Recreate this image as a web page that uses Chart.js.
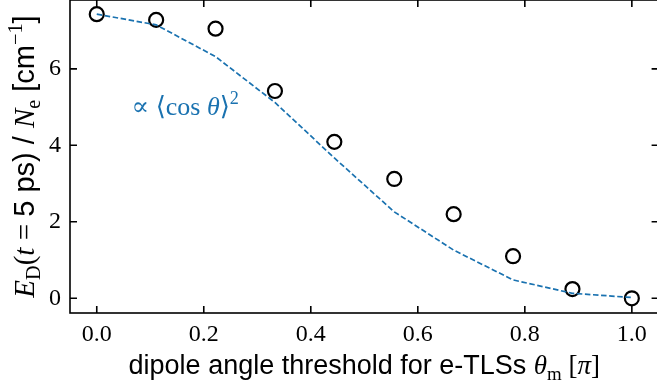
<!DOCTYPE html>
<html>
<head>
<meta charset="utf-8">
<script src="https://cdn.jsdelivr.net/npm/chart.js@4.4.1/dist/chart.umd.min.js"></script>
<style>
  html, body { margin: 0; padding: 0; background: #fff; overflow: hidden; }
  #wrap { width: 662px; height: 388px; }
</style>
</head>
<body>
<div id="wrap"><canvas id="chart" width="662" height="388"></canvas></div>
<script>
// threshold angle theta_m in units of pi
const thetaM = [0, 0.111, 0.222, 0.333, 0.444, 0.556, 0.667, 0.778, 0.889, 1.0];
// simulated E_D(t = 5 ps) / N_e
const energyDensity = [7.43, 7.28, 7.05, 5.42, 4.09, 3.12, 2.20, 1.10, 0.24, 0.0];
// scaled <cos theta>^2 curve
const cosSquared = [7.43, 7.15, 6.32, 5.12, 3.67, 2.26, 1.26, 0.48, 0.13, 0.02];

const xTicks = [0, 0.2, 0.4, 0.6, 0.8, 1.0];
const xTickLabels = ['0.0', '0.2', '0.4', '0.6', '0.8', '1.0'];
const yTicks = [0, 2, 4, 6];
const yTickLabels = ['0', '2', '4', '6'];

const BLUE = '#1a72b0';
const SERIF = '"Liberation Serif", "DejaVu Serif", serif';
const SANS = '"Liberation Sans", Arial, sans-serif';

// draw a string made of pieces in different fonts (math + text)
function richWidth(ctx, segs, size) {
    let w = 0;
    segs.forEach(s => {
        const sz = s.shift ? size * 0.7 : size;
        ctx.font = (s.italic ? 'italic ' : '') + sz + 'px ' + (s.sans ? SANS : SERIF);
        w += ctx.measureText(s.t).width;
    });
    return w;
}

function drawRich(ctx, segs, size, x, y) {
    segs.forEach(s => {
        const sz = s.shift ? size * 0.7 : size;
        ctx.font = (s.italic ? 'italic ' : '') + sz + 'px ' + (s.sans ? SANS : SERIF);
        let dy = 0;
        if (s.shift === 'sub') dy = size * 0.22;
        if (s.shift === 'sup') dy = -size * 0.4;
        ctx.fillText(s.t, x, y + dy);
        x += ctx.measureText(s.t).width;
    });
}

const xTitle = [
    { t: 'dipole angle threshold for e-TLSs ', sans: true },
    { t: 'θ', italic: true },
    { t: 'm', shift: 'sub' },
    { t: ' [' },
    { t: 'π', italic: true },
    { t: ']' }
];

const yTitle = [
    { t: 'E', italic: true },
    { t: 'D', shift: 'sub' },
    { t: '(' },
    { t: 't', italic: true },
    { t: ' = ' },
    { t: '5 ps) / ', sans: true },
    { t: 'N', italic: true },
    { t: 'e', shift: 'sub' },
    { t: ' [cm', sans: true },
    { t: '−1', shift: 'sup' },
    { t: ']', sans: true }
];

const annotation = [
    { t: '∝ ⟨cos ' },
    { t: 'θ', italic: true },
    { t: '⟩' },
    { t: '2', shift: 'sup' }
];

// frame with inward ticks, axis titles and the curve label
const framePlugin = {
    id: 'frame',
    afterDraw(chart) {
        const ctx = chart.ctx;
        const a = chart.chartArea;
        const xs = chart.scales.x, ys = chart.scales.y;
        ctx.save();
        ctx.strokeStyle = '#000';
        ctx.lineWidth = 1.6;
        ctx.strokeRect(a.left, a.top, a.right - a.left, a.bottom - a.top);
        ctx.beginPath();
        xTicks.forEach(v => {
            const px = xs.getPixelForValue(v);
            ctx.moveTo(px, a.bottom); ctx.lineTo(px, a.bottom - 7);
            ctx.moveTo(px, a.top); ctx.lineTo(px, a.top + 7);
        });
        yTicks.forEach(v => {
            const py = ys.getPixelForValue(v);
            ctx.moveTo(a.left, py); ctx.lineTo(a.left + 7, py);
            ctx.moveTo(a.right, py); ctx.lineTo(a.right - 7, py);
        });
        ctx.stroke();

        ctx.fillStyle = '#000';
        ctx.textBaseline = 'alphabetic';
        ctx.textAlign = 'left';
        const cx = (a.left + a.right) / 2;
        drawRich(ctx, xTitle, 27, cx - richWidth(ctx, xTitle, 27) / 2, 374);

        const cy = (a.top + a.bottom) / 2;
        ctx.translate(34, cy);
        ctx.rotate(-Math.PI / 2);
        drawRich(ctx, yTitle, 29, -richWidth(ctx, yTitle, 29) / 2, 0);
        ctx.restore();

        ctx.save();
        ctx.fillStyle = BLUE;
        ctx.textBaseline = 'alphabetic';
        drawRich(ctx, annotation, 26, xs.getPixelForValue(0.065), ys.getPixelForValue(4.8));
        ctx.restore();
    }
};

new Chart(document.getElementById('chart').getContext('2d'), {
    type: 'scatter',
    data: {
        datasets: [{
            data: thetaM.map((x, i) => ({ x: x, y: cosSquared[i] })),
            showLine: true,
            borderColor: BLUE,
            borderWidth: 1.7,
            borderDash: [5.5, 2.6],
            pointRadius: 0,
            fill: false
        }, {
            data: thetaM.map((x, i) => ({ x: x, y: energyDensity[i] })),
            pointRadius: 7,
            pointBorderWidth: 2.2,
            pointBorderColor: '#000',
            pointBackgroundColor: 'rgba(0,0,0,0)'
        }]
    },
    options: {
        responsive: false,
        animation: false,
        layout: { autoPadding: false, padding: { top: 0, left: 0, bottom: 0, right: 3.4 } },
        plugins: { legend: { display: false }, tooltip: { enabled: false } },
        scales: {
            x: {
                type: 'linear',
                min: -0.05,
                max: 1.05,
                afterBuildTicks: s => { s.ticks = xTicks.map(v => ({ value: v })); },
                afterFit: s => {
                    s.height = 75;
                    s.paddingLeft = 0; s.paddingRight = 0;
                    s.paddingTop = 0; s.paddingBottom = 0;
                },
                grid: { display: false, drawTicks: false },
                border: { display: false },
                ticks: {
                    autoSkip: false,
                    maxRotation: 0,
                    padding: 7,
                    color: '#000',
                    font: { family: SERIF, size: 24 },
                    callback: (v, i) => xTickLabels[i]
                }
            },
            y: {
                type: 'linear',
                min: -0.385,
                max: 7.8,
                afterBuildTicks: s => { s.ticks = yTicks.map(v => ({ value: v })); },
                afterFit: s => {
                    s.width = 70;
                    s.paddingLeft = 0; s.paddingRight = 0;
                    s.paddingTop = 0; s.paddingBottom = 0;
                },
                grid: { display: false, drawTicks: false },
                border: { display: false },
                ticks: {
                    autoSkip: false,
                    padding: 9,
                    color: '#000',
                    font: { family: SERIF, size: 24 },
                    callback: (v, i) => yTickLabels[i]
                }
            }
        }
    },
    plugins: [framePlugin]
});
</script>
</body>
</html>
